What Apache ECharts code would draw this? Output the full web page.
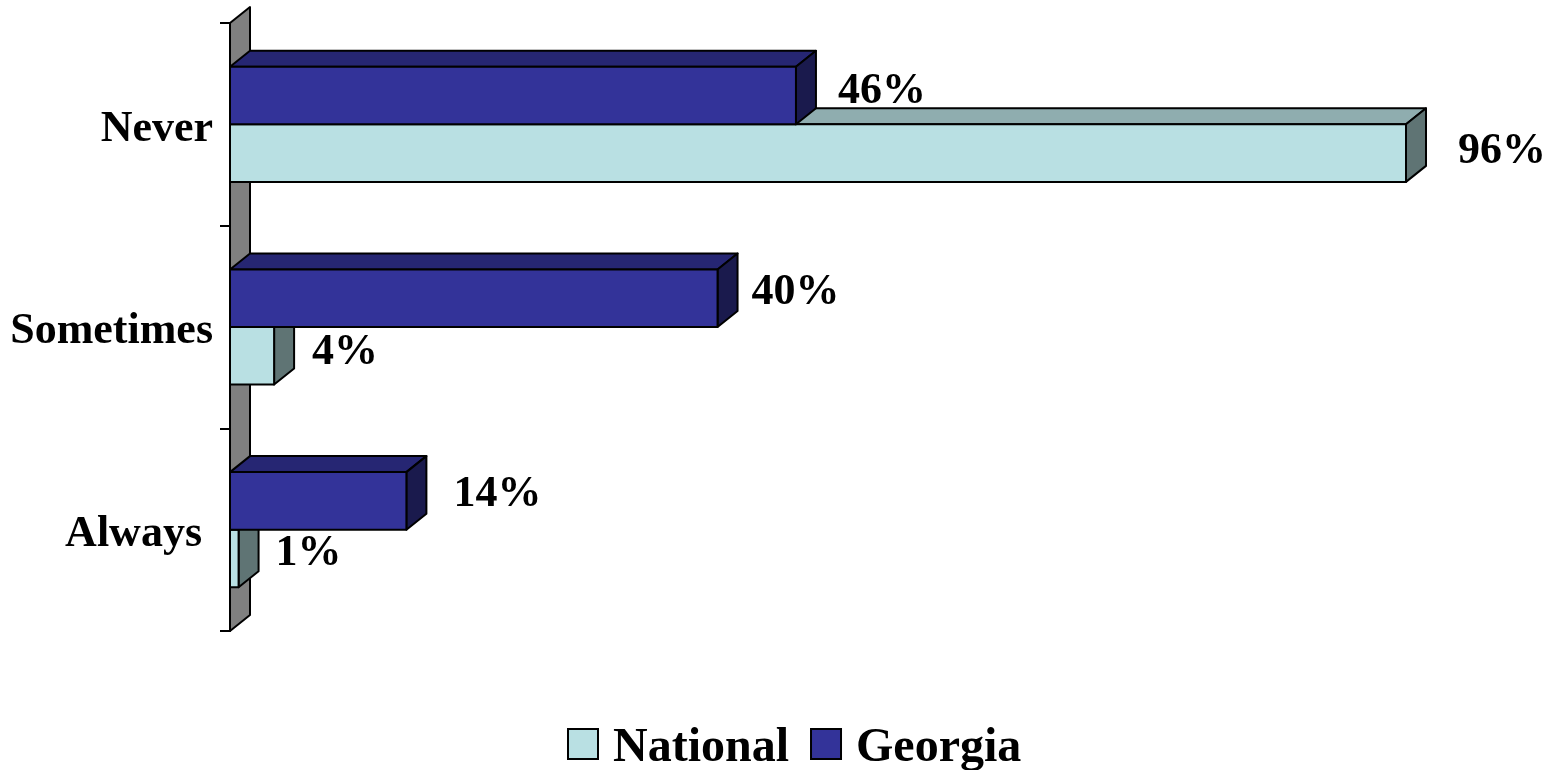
<!DOCTYPE html>
<html><head><meta charset="utf-8">
<style>html,body{margin:0;padding:0;background:#fff}#c{width:1552px;height:770px}</style>
<script src="https://cdn.jsdelivr.net/npm/echarts@6/dist/echarts.min.js"></script>
</head><body><div id="c"></div>
<script>
const categories = ['Never', 'Sometimes', 'Always '];
const nationalValues = [96, 3.6, 0.7];
const georgiaValues = [46.2, 39.8, 14.4];
const nationalLabelGap = [52, 38, 37];
const georgiaLabelGap = [42, 34, 47];
const nationalLabelRise = [1, 3, 5];
const georgiaLabelRise = [4, 6, 6];

const FONT = '"Liberation Serif", "Times New Roman", serif';
const DX = 20, DY = -16;
const NAT = {front: '#B9E0E3', top: '#8FADAF', side: '#5F7474'};
const GEO = {front: '#333399', top: '#262673', side: '#1A1A4D'};
const edge = {stroke: '#000', lineWidth: 2, lineJoin: 'round'};

function poly(points, fill) {
  return {type: 'polygon', shape: {points}, style: Object.assign({fill}, edge)};
}
function bar3d(pal, upper, gaps, rises) {
  return function (params, api) {
    const idx = api.value(0), val = api.value(1);
    const o = api.coord([0, idx]), e = api.coord([val, idx]);
    const band = api.size([0, 1])[1];
    const h = band * 0.284;
    const y0 = upper ? o[1] - h : o[1], y1 = y0 + h;
    const x0 = o[0], x1 = e[0];
    return {type: 'group', children: [
      poly([[x0, y0], [x0 + DX, y0 + DY], [x1 + DX, y0 + DY], [x1, y0]], pal.top),
      poly([[x1, y0], [x1 + DX, y0 + DY], [x1 + DX, y1 + DY], [x1, y1]], pal.side),
      {type: 'rect', shape: {x: x0, y: y0, width: x1 - x0, height: h}, style: Object.assign({fill: pal.front}, edge)},
      {type: 'text', style: {
        x: x1 + gaps[idx], y: (y0 + y1) / 2 - rises[idx],
        text: Math.round(val) + '%', fill: '#000',
        font: 'bold 44px ' + FONT, textAlign: 'left', textVerticalAlign: 'middle'
      }}
    ]};
  };
}
function wall(params, api) {
  const c = params.coordSys;
  const x = c.x, t = c.y, b = c.y + c.height;
  return poly([[x, t], [x + DX, t + DY], [x + DX, b + DY], [x, b]], '#808080');
}
const chart = echarts.init(document.getElementById('c'), null, {renderer: 'canvas'});
chart.setOption({
  animation: false,
  backgroundColor: '#fff',
  grid: {left: 230, top: 23, width: 1225, height: 608, containLabel: false},
  xAxis: {type: 'value', min: 0, max: 100, show: false},
  yAxis: {
    type: 'category', inverse: true, data: categories,
    axisLine: {show: true, lineStyle: {color: '#000', width: 2}},
    axisTick: {show: true, length: 10, lineStyle: {color: '#000', width: 2}},
    axisLabel: {
      margin: 17,
      formatter: v => '{a|' + v + '}',
      rich: {a: {color: '#000', fontFamily: FONT, fontWeight: 'bold', fontSize: 44, padding: [10, 0, 0, 0]}}
    }
  },
  legend: {
    left: 562, top: 720, icon: 'rect', itemWidth: 30, itemHeight: 30, itemGap: 21,
    data: ['National', 'Georgia'],
    itemStyle: {borderColor: '#000', borderWidth: 2},
    formatter: n => '{a|' + n + '}',
    textStyle: {
      rich: {a: {color: '#000', fontFamily: FONT, fontWeight: 'bold', fontSize: 48, padding: [10, 0, 0, 10]}}
    }
  },
  series: [
    {type: 'custom', name: 'wall', coordinateSystem: 'cartesian2d', clip: false, silent: true, z: 1,
      renderItem: wall, data: [[0, 0]], encode: {x: 1, y: 0}},
    {type: 'custom', name: 'National', coordinateSystem: 'cartesian2d', clip: false, z: 2,
      itemStyle: {color: NAT.front},
      renderItem: bar3d(NAT, false, nationalLabelGap, nationalLabelRise),
      data: nationalValues.map((v, i) => [i, v]), encode: {x: 1, y: 0}},
    {type: 'custom', name: 'Georgia', coordinateSystem: 'cartesian2d', clip: false, z: 3,
      itemStyle: {color: GEO.front},
      renderItem: bar3d(GEO, true, georgiaLabelGap, georgiaLabelRise),
      data: georgiaValues.map((v, i) => [i, v]), encode: {x: 1, y: 0}}
  ]
});
</script></body></html>
